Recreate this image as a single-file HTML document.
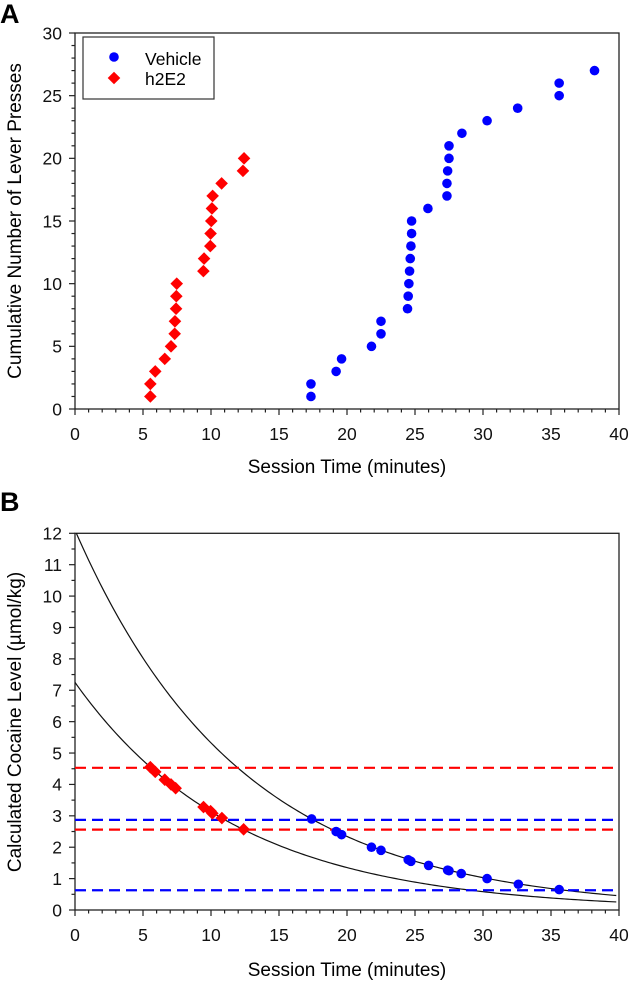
<!DOCTYPE html>
<html><head><meta charset="utf-8"><style>
body{margin:0;background:#fff;width:629px;height:983px;overflow:hidden}
svg{font-family:"Liberation Sans",sans-serif}
</style></head><body>
<svg id="c" width="629" height="983"></svg>
<script>
const vehA_x=[17.35,17.35,19.2,19.6,21.8,22.5,22.5,24.45,24.5,24.55,24.6,24.65,24.7,24.75,24.75,25.95,27.35,27.35,27.4,27.5,27.5,28.45,30.3,32.55,35.6,35.6,38.2];
const vehA_y=[1,2,3,4,5,6,7,8,9,10,11,12,13,14,15,16,17,18,19,20,21,22,23,24,25,26,27];
const h2A_x=[5.54,5.54,5.9,6.6,7.06,7.33,7.35,7.43,7.45,7.48,9.44,9.49,9.95,9.97,10.02,10.07,10.12,10.78,12.35,12.43];
const h2A_y=[1,2,3,4,5,6,7,8,9,10,11,12,13,14,15,16,17,18,19,20];
const vehB_x=[17.4,19.2,19.6,21.8,22.5,24.5,24.7,26.0,27.4,27.5,28.4,30.3,32.6,35.6];
const vehB_y=[2.9,2.5,2.4,2.0,1.9,1.6,1.55,1.42,1.27,1.25,1.16,1.0,0.82,0.65];
const h2B_x=[5.54,5.9,6.6,7.06,7.4,9.45,9.97,10.1,10.8,12.4];
const h2B_y=[4.55,4.4,4.15,4.0,3.88,3.28,3.15,3.08,2.93,2.57];
const curveA=[12.1,7.25];
const curveK=[0.0821,0.084];
const redLevels=[4.53,2.56];
const blueLevels=[2.87,0.63];
const xTicks=[0,5,10,15,20,25,30,35,40];
const yTicksA=[0,5,10,15,20,25,30];
const yTicksB=[0,1,2,3,4,5,6,7,8,9,10,11,12];

const NS="http://www.w3.org/2000/svg";
const svg=document.getElementById('c');
function mk(tag,attrs,parent){const e=document.createElementNS(NS,tag);for(const k in attrs)e.setAttribute(k,attrs[k]);(parent||svg).appendChild(e);return e;}
const X0=75,X1=619;
const sx=v=>X0+(X1-X0)*v/40;
const A={top:33,bot:409,max:30},B={top:533.3,bot:910,max:12};
const syA=v=>A.bot-(A.bot-A.top)*v/A.max;
const syB=v=>B.bot-(B.bot-B.top)*v/B.max;
const TF=17.5, AF=19;

function axes(P,sy,yTicks,yMinor,id){
  const g=mk('g',{});
  
  
  mk('rect',{x:X0,y:P.top,width:X1-X0,height:P.bot-P.top,fill:'none',stroke:'#222','stroke-width':1.3},g);
  for(let v=0;v<=40;v+=1){const maj=v%5===0;mk('line',{x1:sx(v),x2:sx(v),y1:P.bot,y2:P.bot+(maj?6:3.5),stroke:'#222','stroke-width':1.2},g);}
  const step=yTicks[1]-yTicks[0];
  for(let v=0;v<=P.max+1e-9;v+=yMinor){const maj=Math.abs(v-Math.round(v/step)*step)<1e-6;mk('line',{x1:X0,x2:X0-(maj?6:3.5),y1:sy(v),y2:sy(v),stroke:'#222','stroke-width':1.2},g);}
  xTicks.forEach(v=>{const t=mk('text',{x:sx(v),y:P.bot+31,'text-anchor':'middle','font-size':TF,fill:'#111'},g);t.textContent=v;
    });
  yTicks.forEach(v=>{const t=mk('text',{x:X0-13,y:sy(v)+6.3,'text-anchor':'end','font-size':TF,fill:'#111'},g);t.textContent=v;
    });
}
function dot(x,y,name){const c=mk('circle',{cx:x,cy:y,r:4.8,fill:'#0000ff'});}
function dia(x,y,name){const s=6.3;const p=mk('polygon',{points:`${x},${y-s} ${x+s},${y} ${x},${y+s} ${x-s},${y}`,fill:'#ff0000'});}

// Panel A
axes(A,syA,yTicksA,1,'panel-a');
let t=mk('text',{x:0,y:23,'font-size':27,'font-weight':'bold'});t.textContent='A';

t=mk('text',{x:347,y:473,'text-anchor':'middle','font-size':AF});t.textContent='Session Time (minutes)';

t=mk('text',{x:0,y:0,'text-anchor':'middle','font-size':AF,transform:'translate(21,221) rotate(-90)'});t.textContent='Cumulative Number of Lever Presses';

h2A_x.forEach((v,i)=>dia(sx(v),syA(h2A_y[i]),'h2e2-point'));
vehA_x.forEach((v,i)=>dot(sx(v),syA(vehA_y[i]),'vehicle-point'));
// legend
const lg=mk('g',{});


mk('rect',{x:83,y:37,width:131,height:62,fill:'#fff',stroke:'#333','stroke-width':1.2},lg);
mk('circle',{cx:114,cy:57,r:4.8,fill:'#0000ff'},lg);
let s=6.3;mk('polygon',{points:`114,${78-s} ${114+s},78 114,${78+s} ${114-s},78`,fill:'#ff0000'},lg);
t=mk('text',{x:145,y:65,'font-size':TF},lg);t.textContent='Vehicle';
t=mk('text',{x:145,y:85,'font-size':TF},lg);t.textContent='h2E2';

// Panel B
axes(B,syB,yTicksB,0.5,'panel-b');
t=mk('text',{x:0,y:511,'font-size':27,'font-weight':'bold'});t.textContent='B';

t=mk('text',{x:347,y:976,'text-anchor':'middle','font-size':AF});t.textContent='Session Time (minutes)';

t=mk('text',{x:0,y:0,'text-anchor':'middle','font-size':AF,transform:'translate(21,722) rotate(-90)'});t.textContent='Calculated Cocaine Level (\u00b5mol/kg)';

const clip=mk('clipPath',{id:'cp'});mk('rect',{x:X0,y:B.top,width:X1-X0,height:B.bot-B.top},clip);
curveA.forEach((a,i)=>{let d='';for(let tt=0;tt<=40;tt+=0.2){d+=(tt===0?'M':'L')+sx(tt).toFixed(2)+','+syB(a*Math.exp(-curveK[i]*tt)).toFixed(2);}
  const p=mk('path',{d:d,fill:'none',stroke:'#111','stroke-width':1.2,'clip-path':'url(#cp)'});
  });
redLevels.forEach(v=>{const l=mk('line',{x1:sx(0),x2:sx(40),y1:syB(v),y2:syB(v),stroke:'#ff0000','stroke-width':2.2,'stroke-dasharray':'11,6'});
  });
blueLevels.forEach(v=>{const l=mk('line',{x1:sx(0),x2:sx(40),y1:syB(v),y2:syB(v),stroke:'#0000ff','stroke-width':2.2,'stroke-dasharray':'11,6'});
  });
h2B_x.forEach((v,i)=>dia(sx(v),syB(h2B_y[i]),'h2e2-level-point'));
vehB_x.forEach((v,i)=>dot(sx(v),syB(vehB_y[i]),'vehicle-level-point'));
</script>
</body></html>
